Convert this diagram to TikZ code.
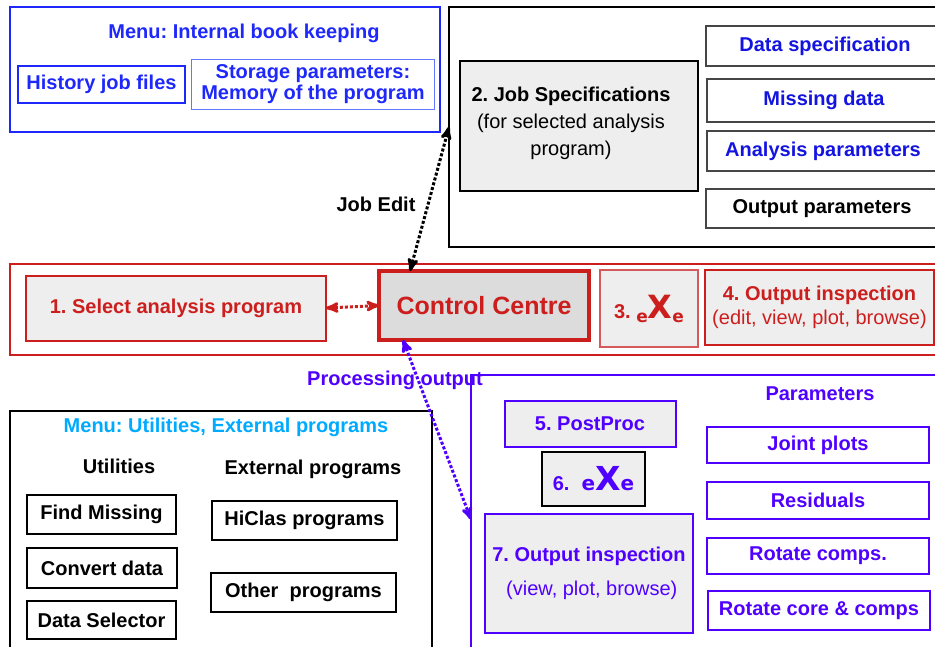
\documentclass[tikz,border=0pt]{standalone}
\usepackage{fontspec}
\setmainfont{Liberation Sans}
\newfontfamily\heavyfont{DejaVu Sans}
\usepackage{tikz}
\usetikzlibrary{arrows}
\definecolor{book_blue}{RGB}{30,40,250}
\definecolor{edge_lblue}{RGB}{100,120,255}
\definecolor{spec_blue}{RGB}{20,20,225}
\definecolor{proc_blue}{RGB}{80,0,255}
\definecolor{util_cyan}{RGB}{0,170,255}
\definecolor{cc_red}{RGB}{205,30,30}
\definecolor{edge_lred}{RGB}{215,90,90}
\definecolor{node_gray}{RGB}{238,238,238}
\definecolor{cc_gray}{RGB}{220,220,220}
\definecolor{edge_gray}{RGB}{70,70,70}
\frenchspacing

\begin{document}
\begin{tikzpicture}[x=1pt,y=-1pt,>=stealth']
    \tikzstyle{box}=[rectangle, inner sep=0pt, outer sep=0pt, align=center, font=\fontsize{20}{24}\selectfont\bfseries]
    \tikzstyle{lbl}=[inner sep=0pt, align=center, font=\fontsize{20}{24}\selectfont\bfseries]
    \tikzstyle{frame}=[box, draw, line width=2pt]
    \tikzstyle{thin}=[box, draw=edge_gray, line width=1.2pt]
    \tikzstyle{pbox}=[box, draw=proc_blue, line width=1.2pt, text=proc_blue]
    \tikzstyle{link}=[<->, line width=3pt, dash pattern=on 3pt off 2pt]

    \useasboundingbox (0,0) rectangle (935,646);

    % internal book keeping
    \node[frame, draw=book_blue, line width=2.5pt, minimum width=430, minimum height=125] (book) at (225,69.5) {};
    \node[lbl, text=book_blue] (booktitle) at (244,33) {Menu: Internal book keeping};
    \node[box, draw=book_blue, line width=2pt, text=book_blue, minimum width=167, minimum height=37] (history) at (101.5,84.5) {History job files};
    \node[box, draw=edge_lblue, line width=1pt, text=book_blue, minimum width=243, minimum height=50, font=\fontsize{20}{21}\selectfont\bfseries] (storage) at (313,84) {Storage parameters:\\Memory of the program};

    % job specifications
    \node[frame, minimum width=496, minimum height=240] (job) at (697,127) {};
    \node[box, draw, line width=2pt, fill=node_gray, minimum width=238, minimum height=130] (jobspec) at (579,126) {};
    \node[lbl, font=\fontsize{20}{27}\selectfont] (jobspectext) at (571,123) {\textbf{2. Job Specifications}\\(for selected analysis\\program)};
    \node[thin, text=spec_blue, minimum width=238, minimum height=40] (dataspec) at (825,46) {Data specification};
    \node[thin, text=spec_blue, minimum width=234, minimum height=43] (missing) at (824,100.5) {Missing data};
    \node[thin, text=spec_blue, minimum width=232, minimum height=40] (analysis) at (823,151) {Analysis parameters};
    \node[thin, minimum width=232, minimum height=39] (outparam) at (822,208.5) {Output parameters};

    % control band
    \node[box, draw=cc_red, line width=1.5pt, minimum width=935, minimum height=91] (band) at (477.5,309.5) {};
    \node[box, draw=cc_red, line width=2pt, fill=node_gray, text=cc_red, minimum width=300, minimum height=65] (select) at (176,308) {1. Select analysis program};
    \node[box, draw=cc_red, line width=4pt, fill=cc_gray, text=cc_red, minimum width=210, minimum height=69, font=\fontsize{25}{30}\selectfont\bfseries] (cc) at (484,305.5) {Control Centre};
    \node[box, draw=edge_lred, line width=1.2pt, fill=node_gray, text=cc_red, minimum width=98, minimum height=77] (exered) at (649,308.5) {3. \raisebox{-4pt}{\heavyfont\bfseries\fontsize{17}{17}\selectfont e}{\heavyfont\bfseries\fontsize{32}{32}\selectfont X}\raisebox{-4pt}{\heavyfont\bfseries\fontsize{17}{17}\selectfont e}};
    \node[box, draw=cc_red, line width=2pt, fill=node_gray, text=cc_red, minimum width=229, minimum height=75] (outinsp) at (819.5,307.5) {4. Output inspection\\\mdseries(edit, view, plot, browse)};

    % processing output
    \node[box, draw=proc_blue, line width=1.2pt, minimum width=479, minimum height=285] (proc) at (710.5,517.5) {};
    \node[lbl, text=proc_blue] (params) at (820,394) {Parameters};
    \node[pbox, line width=2pt, fill=node_gray, minimum width=171, minimum height=46] (postproc) at (590,424) {5. PostProc};
    \node[box, draw, line width=2pt, fill=node_gray, text=proc_blue, minimum width=103, minimum height=54] (exeblue) at (593.5,479) {6.\hspace{12pt}{\heavyfont\bfseries\fontsize{20}{20}\selectfont e}{\heavyfont\bfseries\fontsize{33}{33}\selectfont X}{\heavyfont\bfseries\fontsize{20}{20}\selectfont e}};
    \node[pbox, line width=2pt, fill=node_gray, minimum width=208, minimum height=119, font=\fontsize{20}{34}\selectfont\bfseries] (outview) at (589,573.5) {7. Output inspection\\\mdseries\ (view, plot, browse)};
    \node[pbox, minimum width=222, minimum height=36] (joint) at (818,445) {Joint plots};
    \node[pbox, minimum width=222, minimum height=37] (resid) at (818,500.5) {Residuals};
    \node[pbox, minimum width=222, minimum height=36] (rotcomp) at (818,556) {Rotate comps.};
    \node[pbox, minimum width=222, minimum height=39] (rotcore) at (819,610.5) {Rotate core \& comps};

    % utilities and external programs
    \node[frame, minimum width=422, minimum height=249] (util) at (221,535.5) {};
    \node[lbl, text=util_cyan] (utiltitle) at (226,427) {Menu: Utilities, External programs};
    \node[lbl] (utilhead) at (119,466) {Utilities};
    \node[lbl] (exthead) at (313,469) {External programs};
    \node[thin, draw=black, minimum width=149, minimum height=39] (findmiss) at (101.5,514.5) {Find Missing};
    \node[thin, draw=black, minimum width=150, minimum height=40] (convert) at (102,568) {Convert data};
    \node[thin, draw=black, minimum width=149, minimum height=38] (selector) at (101.5,620) {Data Selector};
    \node[thin, draw=black, minimum width=185, minimum height=39] (hiclas) at (304.5,520.5) {HiClas programs};
    \node[thin, draw=black, minimum width=185, minimum height=39] (other) at (303.5,592.5) {Other\ \ programs};

    % connectors
    \node[lbl] (jobedit) at (376,204) {Job Edit};
    \node[lbl, text=proc_blue] (proclbl) at (395,380) {Processing output};
    \path
     (select.east) edge[link, cc_red] (cc.west)
     ([xshift=31pt]cc.north west) edge[link, black] (job.west)
     ([xshift=24pt]cc.south west) edge[link, proc_blue] ([yshift=-2pt]proc.west)
     ;
\end{tikzpicture}
\end{document}
